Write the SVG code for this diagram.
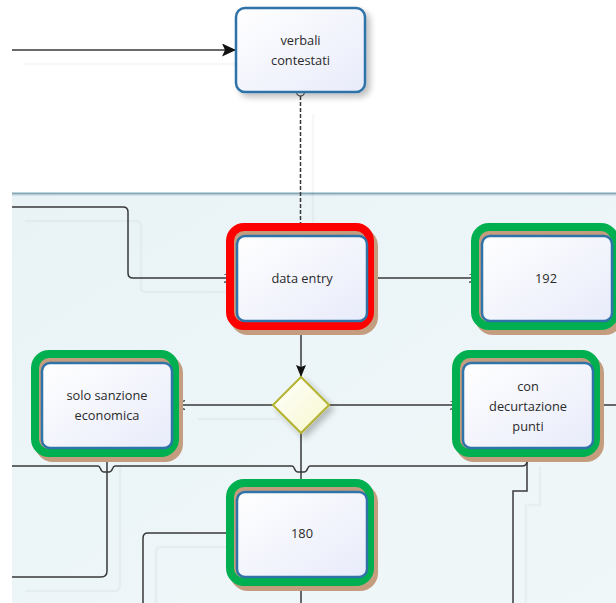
<svg xmlns="http://www.w3.org/2000/svg" width="616" height="603" viewBox="0 0 616 603">
<defs>
<style>
.lbl{font-family:"Open Sans","DejaVu Sans",sans-serif;font-size:12.8px;fill:#2a2a2a;text-anchor:middle}
.box{fill:url(#boxg);stroke:#2f73a8;stroke-width:2.5}
.ring-g{fill:#c49c7e;stroke:#00b050;stroke-width:8}
.ring-r{fill:#c49c7e;stroke:#ff0000;stroke-width:8}
.shd{fill:#c49c7e}
.cn{fill:none;stroke:#383838;stroke-width:1.5}
.sh{fill:none;stroke:#000;stroke-opacity:0.03;stroke-width:2.5}
</style>
<linearGradient id="boxg" x1="0" y1="0" x2="1" y2="1">
<stop offset="0" stop-color="#ffffff"/>
<stop offset="1" stop-color="#e8ebfa"/>
</linearGradient>
<linearGradient id="gwg" x1="0" y1="0" x2="1" y2="1">
<stop offset="0" stop-color="#ffffff"/>
<stop offset="1" stop-color="#f7f7cc"/>
</linearGradient>
<linearGradient id="lane" x1="0" y1="0" x2="1" y2="1">
<stop offset="0" stop-color="#e9f3f6"/>
<stop offset="1" stop-color="#f0f7f9"/>
</linearGradient>
<filter id="ds" x="-20%" y="-20%" width="150%" height="150%">
<feGaussianBlur in="SourceAlpha" stdDeviation="3"/>
<feOffset dx="4" dy="4"/>
<feComponentTransfer><feFuncA type="linear" slope="0.25"/></feComponentTransfer>
<feMerge><feMergeNode/><feMergeNode in="SourceGraphic"/></feMerge>
</filter>
<marker id="af" markerUnits="userSpaceOnUse" markerWidth="16" markerHeight="14" refX="14" refY="6.5" orient="auto">
<path d="M0,0 L14,6.5 L0,13 L3,6.5 z" fill="#111"/>
</marker>
<marker id="af2" markerUnits="userSpaceOnUse" markerWidth="14" markerHeight="12" refX="12" refY="5" orient="auto">
<path d="M0,0 L12,5 L0,10 L2,5 z" fill="#111"/>
</marker>
<marker id="ao" markerUnits="userSpaceOnUse" markerWidth="15" markerHeight="11" refX="13" refY="4.5" orient="auto">
<path d="M0,0 L13,4.5 L0,9" fill="none" stroke="#383838" stroke-width="1.3"/>
</marker>
</defs>

<rect x="0" y="0" width="616" height="603" fill="#ffffff"/>
<g id="lane-bg">
<rect x="12" y="194" width="604" height="409" fill="url(#lane)"/>
<line x1="12" y1="193.5" x2="616" y2="193.5" stroke="#84a8b6" stroke-width="2"/>
<line x1="12" y1="195.5" x2="616" y2="195.5" stroke="#d3e3e9" stroke-width="1"/>
</g>

<g id="connector-shadows" transform="translate(13,14)">
<path class="sh" d="M12 50 H223"/>
<path class="sh" d="M300 100 V222"/>
<path class="sh" d="M12 207 H123 Q128 207 128 212 V273 Q128 278 133 278 H230"/>
<path class="sh" d="M107 452 V571 Q107 577 101 577 H12"/>
<path class="sh" d="M237 533 H148 Q143 533 143 538 V603"/>
<path class="sh" d="M527 452 V491 H513 V603"/>
<path class="sh" d="M185 405 H266"/>
</g>

<g id="connectors">
<path class="cn" d="M12 50 H236" marker-end="url(#af)"/>
<path class="cn" d="M300.5 96 V236" stroke-dasharray="4 2" marker-end="url(#ao)"/>
<circle cx="300.5" cy="92" r="4" fill="#fff" stroke="#555" stroke-width="1.3"/>
<path class="cn" d="M12 207 H123 Q128 207 128 212 V273 Q128 278 133 278 H237" marker-end="url(#ao)"/>
<path class="cn" d="M367 278 H482" marker-end="url(#ao)"/>
<path class="cn" d="M612 278 H616"/>
<path class="cn" d="M301 321 V377" marker-end="url(#af2)"/>
<path class="cn" d="M273 405 H172" marker-end="url(#ao)"/>
<path class="cn" d="M329 405 H463" marker-end="url(#ao)"/>
<path class="cn" d="M593 405 H616"/>
<path class="cn" d="M301 433 V492" marker-end="url(#ao)"/>
<path class="cn" d="M527 448 V461 Q527 466 522 466 H310 C307 466 308 472 304 472 H298 C294 472 295 466 292 466 H115 C112 466 113 472 109 472 H104 C100 472 101 466 98 466 H12"/>
<path class="cn" d="M527 448 V491 H513 V603"/>
<path class="cn" d="M107 448 V571 Q107 577 101 577 H12"/>
<path class="cn" d="M237 533 H148 Q143 533 143 538 V603"/>
<path class="cn" d="M301 577 V603"/>
</g>

<g id="verbali-contestati">
<rect class="box" x="236" y="8" width="129" height="84" rx="9" filter="url(#ds)"/>
<text class="lbl" x="300.5" y="45">verbali</text>
<text class="lbl" x="300.5" y="65">contestati</text>
</g>

<g id="data-entry">
<rect class="shd" x="230" y="228" width="148" height="107" rx="18"/>
<rect class="ring-r" x="230" y="227" width="140" height="99" rx="14"/>
<rect class="box" x="237" y="236" width="130" height="85" rx="8"/>
<text class="lbl" x="302" y="283">data entry</text>
</g>

<g id="n192">
<rect class="shd" x="475" y="228" width="148" height="107" rx="18"/>
<rect class="ring-g" x="475" y="227" width="140" height="99" rx="14"/>
<rect class="box" x="482" y="236" width="130" height="85" rx="8"/>
<text class="lbl" x="546" y="283">192</text>
</g>

<g id="gateway">
<path d="M301 377 L329 405 L301 433 L273 405 Z" fill="url(#gwg)" stroke="#b4b430" stroke-width="2" filter="url(#ds)"/>
</g>

<g id="solo-sanzione-economica">
<rect class="shd" x="35" y="355" width="148" height="107" rx="18"/>
<rect class="ring-g" x="35" y="354" width="140" height="99" rx="14"/>
<rect class="box" x="42" y="363" width="130" height="85" rx="8"/>
<text class="lbl" x="107" y="400">solo sanzione</text>
<text class="lbl" x="107" y="420">economica</text>
</g>

<g id="con-decurtazione-punti">
<rect class="shd" x="456" y="355" width="148" height="107" rx="18"/>
<rect class="ring-g" x="456" y="354" width="140" height="99" rx="14"/>
<rect class="box" x="463" y="363" width="130" height="85" rx="8"/>
<text class="lbl" x="528" y="391">con</text>
<text class="lbl" x="528" y="411">decurtazione</text>
<text class="lbl" x="528" y="431">punti</text>
</g>

<g id="n180">
<rect class="shd" x="230" y="484" width="148" height="107" rx="18"/>
<rect class="ring-g" x="230" y="483" width="140" height="99" rx="14"/>
<rect class="box" x="237" y="492" width="130" height="85" rx="8"/>
<text class="lbl" x="302" y="538">180</text>
</g>
</svg>
